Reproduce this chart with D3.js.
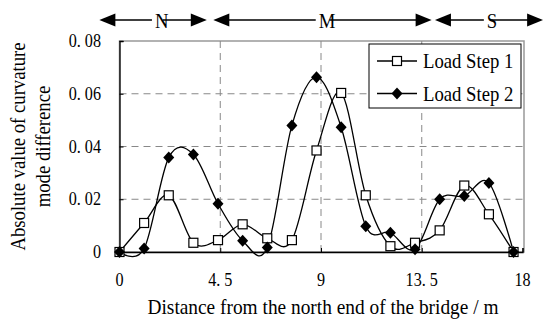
<!DOCTYPE html>
<html>
<head>
<meta charset="utf-8">
<script src="https://cdn.jsdelivr.net/npm/d3@7"></script>
<style>
    body { margin: 0; background: #fff; }
    svg { display: block; }
</style>
</head>
<body>
<div id="chart"></div>
<script>
// Data (distance in m, every 1.1 m)
const positions = [0, 1.1, 2.2, 3.3, 4.4, 5.5, 6.6, 7.7, 8.8, 9.9, 11, 12.1, 13.2, 14.3, 15.4, 16.5, 17.6];
const loadStep1 = [0, 0.011, 0.0215, 0.0035, 0.0045, 0.0105, 0.0052, 0.0045, 0.0385, 0.0603, 0.0215, 0.0022, 0.0035, 0.0082, 0.0252, 0.0143, 0];
const loadStep2 = [0, 0.0013, 0.0358, 0.037, 0.0183, 0.0043, 0.0017, 0.048, 0.0663, 0.0473, 0.0098, 0.0073, 0.001, 0.02, 0.0212, 0.0262, 0];
const seriesNames = ['Load Step 1', 'Load Step 2'];

const xTicks = [0, 4.5, 9, 13.5, 18];
const xTickLabels = ['0', '4. 5', '9', '13. 5', '18'];
const yTicks = [0, 0.02, 0.04, 0.06, 0.08];
const yTickLabels = ['0', '0. 02', '0. 04', '0. 06', '0. 08'];

// Bridge sections drawn as arrows above the plot (m)
const sectionLabels = ['N', 'M', 'S'];
const sectionStart = [-0.9, 4.19, 14.09];
const sectionEnd = [3.9, 13.94, 18.92];
const sectionMid = [1.89, 9.27, 16.64];

const FONT = '"Liberation Serif", "Times New Roman", Times, "DejaVu Serif", serif';

const width = 543, height = 322;
const plot = {left: 119.5, right: 522.5, top: 41, bottom: 252};

const svg = d3.select('#chart').append('svg')
    .attr('width', width)
    .attr('height', height);

const x = d3.scaleLinear().domain([0, 18]).range([plot.left, plot.right]);
const y = d3.scaleLinear().domain([0, 0.08]).range([plot.bottom, plot.top]);

// condensed serif text helper (reference glyphs are narrow and tall)
function label(parent, tx, ty, str, size, anchor, rot, sx) {
    return parent.append('text')
        .attr('transform', `translate(${tx},${ty}) rotate(${rot || 0}) scale(${sx || 0.85},1)`)
        .attr('text-anchor', anchor || 'start')
        .style('font-family', FONT)
        .style('font-size', size + 'px')
        .style('fill', '#000')
        .text(str);
}

// plot frame (top and right are light grey)
svg.append('rect')
    .attr('x', plot.left).attr('y', plot.top)
    .attr('width', plot.right - plot.left + 1.5)
    .attr('height', plot.bottom - plot.top)
    .attr('fill', 'none')
    .attr('stroke', '#999')
    .attr('stroke-width', 1.5);

// dashed grid
svg.append('g').selectAll('line')
    .data(yTicks.slice(1, -1))
    .enter().append('line')
    .attr('x1', plot.left).attr('x2', plot.right + 1.5)
    .attr('y1', d => y(d)).attr('y2', d => y(d))
    .attr('stroke', '#888').attr('stroke-dasharray', '7,5');

svg.append('g').selectAll('line')
    .data(xTicks.slice(1, -1))
    .enter().append('line')
    .attr('x1', d => x(d)).attr('x2', d => x(d))
    .attr('y1', plot.top).attr('y2', plot.bottom)
    .attr('stroke', '#888').attr('stroke-dasharray', '7,5');

// axes with inward ticks
const yAxis = svg.append('g')
    .attr('transform', `translate(${plot.left},0)`)
    .call(d3.axisRight(y).tickValues(yTicks).tickSize(4).tickFormat(''));
const xAxis = svg.append('g')
    .attr('transform', `translate(0,${plot.bottom})`)
    .call(d3.axisTop(x).tickValues(xTicks).tickSize(4).tickFormat(''));
[yAxis, xAxis].forEach(a => {
    a.select('.domain').attr('stroke', '#000').attr('stroke-width', 1.3);
    a.selectAll('.tick line').attr('stroke', '#000');
});

yTicks.forEach((t, i) => {
    label(svg, 101, y(t) + 6, yTickLabels[i], 19, 'end');
});
xTicks.forEach((t, i) => {
    label(svg, x(t), 286, xTickLabels[i], 19, 'middle');
});

// axis titles
label(svg, x(9) + 2, 314, 'Distance from the north end of the bridge / m', 22, 'middle', 0, 0.88);
label(svg, 25, (plot.top + plot.bottom) / 2, 'Absolute value of curvature', 22, 'middle', -90);
label(svg, 50, (plot.top + plot.bottom) / 2, 'mode difference', 22, 'middle', -90);

// series
const line = d3.line()
    .x(d => x(d[0]))
    .y(d => y(d[1]))
    .curve(d3.curveCatmullRom.alpha(0));

const s1 = positions.map((p, i) => [p, loadStep1[i]]);
const s2 = positions.map((p, i) => [p, loadStep2[i]]);

[s1, s2].forEach(pts => {
    svg.append('path')
        .datum(pts)
        .attr('d', line)
        .attr('fill', 'none')
        .attr('stroke', '#000')
        .attr('stroke-width', 1.3);
});

const diamond = 'M0,-6L5.5,0L0,6L-5.5,0Z';

function square(g, cx, cy) {
    g.append('rect')
        .attr('x', cx - 4.5).attr('y', cy - 4.5)
        .attr('width', 9).attr('height', 9)
        .attr('fill', '#fff').attr('stroke', '#000').attr('stroke-width', 1.2);
}
function dia(g, cx, cy) {
    g.append('path')
        .attr('d', diamond)
        .attr('transform', `translate(${cx},${cy})`)
        .attr('fill', '#000');
}

const markers = svg.append('g');
s1.forEach(d => square(markers, x(d[0]), y(d[1])));
s2.forEach(d => dia(markers, x(d[0]), y(d[1])));

// legend
const legend = svg.append('g').attr('transform', 'translate(369,44)');
legend.append('rect')
    .attr('width', 152).attr('height', 64)
    .attr('fill', '#fff').attr('stroke', '#000').attr('stroke-width', 1);
seriesNames.forEach((name, i) => {
    const ly = 17 + i * 32.5;
    legend.append('line')
        .attr('x1', 8).attr('x2', 48).attr('y1', ly).attr('y2', ly)
        .attr('stroke', '#000').attr('stroke-width', 1.3);
    if (i === 0) square(legend, 28, ly); else dia(legend, 28, ly);
    label(legend, 54, ly + 7, name, 22, 'start');
});

// section arrows above the plot
const ay = 20;
const arrows = svg.append('g');
sectionLabels.forEach((s, i) => {
    const x0 = x(sectionStart[i]), x1 = x(sectionEnd[i]), xm = x(sectionMid[i]);
    const t = label(arrows, xm, ay + 8, s, 22, 'middle');
    const w = t.node().getBBox().width * 0.85;
    arrows.append('line')
        .attr('x1', x0 + 10).attr('x2', xm - w / 2 - 3)
        .attr('y1', ay).attr('y2', ay)
        .attr('stroke', '#000').attr('stroke-width', 1.5);
    arrows.append('line')
        .attr('x1', xm + w / 2 - 6).attr('x2', x1 - 10)
        .attr('y1', ay).attr('y2', ay)
        .attr('stroke', '#000').attr('stroke-width', 1.5);
    arrows.append('path')
        .attr('d', `M${x0},${ay}L${x0 + 16},${ay - 6.5}L${x0 + 16},${ay + 6.5}Z`)
        .attr('fill', '#000');
    arrows.append('path')
        .attr('d', `M${x1},${ay}L${x1 - 16},${ay - 6.5}L${x1 - 16},${ay + 6.5}Z`)
        .attr('fill', '#000');
});
</script>
</body>
</html>
